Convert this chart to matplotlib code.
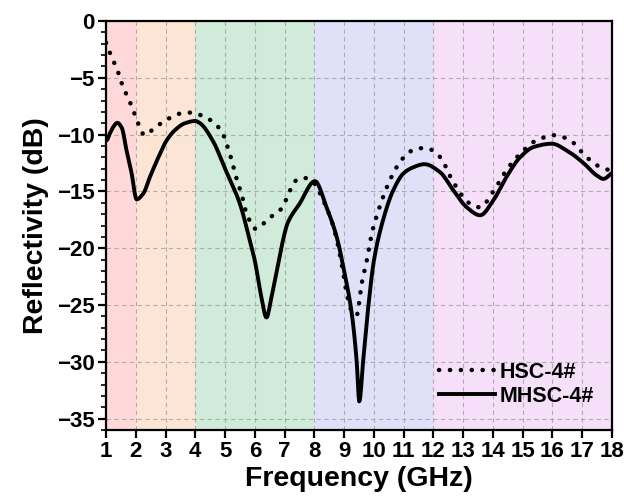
import numpy as np
import matplotlib
matplotlib.use("Agg")
import matplotlib.pyplot as plt

# HSC-4# (dotted)
hsc_f = [1.0, 1.13, 1.25, 1.36, 1.45, 1.53, 1.64, 1.75, 1.86, 1.95, 2.05, 2.14, 2.29, 2.50, 2.72, 2.95,
         3.21, 3.49, 3.74, 4.0, 4.27, 4.6, 4.89, 5.17, 5.39, 5.56, 5.73, 6.04, 6.45, 6.90, 7.12, 7.35,
         7.63, 7.93, 8.30, 8.64, 8.92, 9.09, 9.25, 9.42, 9.59, 9.76, 9.93, 10.15, 10.54, 10.88, 11.21,
         11.55, 11.77, 12.22, 12.61, 13.0, 13.3, 13.57, 14.01, 14.46, 14.91, 15.47, 16.09, 16.59, 17.15,
         17.60, 17.88, 18.0]
hsc_db = [-1.9, -2.8, -3.5, -4.2, -4.8, -5.5, -6.2, -6.8, -7.5, -8.1, -8.8, -9.4, -10.05, -9.7, -9.26, -8.8,
          -8.46, -8.14, -8.05, -8.14, -8.38, -8.9, -9.76, -11.8, -13.9, -15.3, -17.0, -18.3, -17.4, -16.5, -15.3, -14.1,
          -13.8, -14.1, -15.8, -18.1, -21.4, -24.0, -25.5, -25.9, -23.1, -21.1, -18.7, -16.7, -14.0, -12.4, -11.5,
          -11.2, -11.2, -11.96, -13.9, -15.5, -16.2, -16.4, -15.0, -13.1, -11.7, -10.5, -10.05, -10.5, -12.0,
          -12.85, -13.1, -13.15]

# MHSC-4# (solid)
mhsc_f = [1.0, 1.02, 1.13, 1.25, 1.38, 1.53, 1.69, 1.86, 2.03, 2.25, 2.48, 2.76, 3.04, 3.32, 3.65, 4.0,
          4.16, 4.6, 5.0, 5.5, 5.83, 6.0, 6.22, 6.39, 6.56, 6.78, 7.0, 7.1, 7.5, 8.02, 8.41, 8.75, 9.0,
          9.26, 9.42, 9.51, 9.64, 9.81, 10.0, 10.31, 10.65, 11.0, 11.3, 11.7, 12.22, 12.67, 13.12, 13.57,
          14.01, 14.46, 14.91, 15.36, 15.98, 16.48, 17.04, 17.49, 17.71, 17.99]
mhsc_db = [-10.5, -10.5, -9.9, -9.3, -8.96, -9.4, -11.4, -13.4, -15.7, -15.2, -13.7, -12.0, -10.5, -9.6, -9.0, -8.8,
           -9.0, -10.6, -13.0, -16.1, -19.3, -21.1, -24.3, -26.1, -24.3, -21.4, -18.7, -17.8, -16.1, -14.1, -16.4, -19.0, -22.0,
           -25.8, -29.9, -33.5, -29.9, -25.2, -21.1, -17.5, -14.9, -13.4, -12.9, -12.6, -13.3, -14.9, -16.4, -17.1,
           -15.8, -13.7, -12.0, -11.1, -10.8, -11.4, -12.5, -13.6, -13.9, -13.4]

bands = [(1, 2, '#ffd9d9'), (2, 4, '#fce5d5'), (4, 8, '#d0ebda'), (8, 12, '#e0e0f8'), (12, 18, '#f5dff9')]
xticks = list(range(1, 19))
yticks = [0, -5, -10, -15, -20, -25, -30, -35]

plt.rcParams['font.family'] = ['Liberation Sans', 'DejaVu Sans']
plt.rcParams['font.weight'] = 'bold'

fig = plt.figure(figsize=(6.24, 4.98), dpi=100)
ax = fig.add_axes([106/624, 1 - 430/498, (612-106)/624, (430-21)/498])

for a, b, c in bands:
    ax.axvspan(a, b, color=c, zorder=0, lw=0)

def smooth(xs, ys):
    xs = np.asarray(xs, float); ys = np.asarray(ys, float)
    xn = np.linspace(xs[0], xs[-1], 800)
    h = np.diff(xs); d = np.diff(ys) / h
    m = np.zeros_like(ys)
    for i in range(1, len(xs) - 1):
        if d[i-1] * d[i] > 0:
            w1 = 2*h[i] + h[i-1]; w2 = h[i] + 2*h[i-1]
            m[i] = (w1 + w2) / (w1/d[i-1] + w2/d[i])
    m[0] = d[0]; m[-1] = d[-1]
    idx = np.clip(np.searchsorted(xs, xn) - 1, 0, len(xs) - 2)
    t = (xn - xs[idx]) / h[idx]
    h00 = 2*t**3 - 3*t**2 + 1; h10 = t**3 - 2*t**2 + t
    h01 = -2*t**3 + 3*t**2; h11 = t**3 - t**2
    yn = h00*ys[idx] + h10*h[idx]*m[idx] + h01*ys[idx+1] + h11*h[idx]*m[idx+1]
    return xn, yn

x1, y1 = smooth(hsc_f, hsc_db)
x2, y2 = smooth(mhsc_f, mhsc_db)
ax.plot(x1, y1, color='black', lw=3.2, linestyle=(0, (0.05, 2.4)), dash_capstyle='round',
        label='HSC-4#', zorder=3)
ax.plot(x2, y2, color='black', lw=2.8, label='MHSC-4#', zorder=4)

ax.set_xlim(1, 18)
ax.set_ylim(-36, 0)
ax.set_xticks(xticks)
ax.set_yticks(yticks)
ax.set_yticklabels(['0'] + ['\u2212%d' % abs(v) for v in yticks[1:]])
ax.set_yticks(np.arange(-36, 0, 1), minor=True)
ax.grid(True, which='major', color='#a0a0a0', linestyle=(0, (4, 3)), lw=0.8, alpha=0.8)
for gl in ax.get_xgridlines() + ax.get_ygridlines():
    gl.set_zorder(1)

ax.tick_params(axis='both', which='major', direction='out', length=6, width=1.6, labelsize=16, pad=2)
ax.tick_params(axis='y', which='minor', direction='out', length=3.5, width=1.2)
for s in ax.spines.values():
    s.set_linewidth(1.6)

ax.set_xlabel('Frequency (GHz)', fontsize=20.5, fontweight='bold', labelpad=3)
ax.set_ylabel('Reflectivity (dB)', fontsize=20.5, fontweight='bold', labelpad=6)

leg = ax.legend(loc='lower right', bbox_to_anchor=(0.99, 0.025), frameon=False, fontsize=15.5,
                handlelength=2.6, handletextpad=0.2, labelspacing=0.15, borderaxespad=0.2)

fig.savefig('out.png', dpi=100)
